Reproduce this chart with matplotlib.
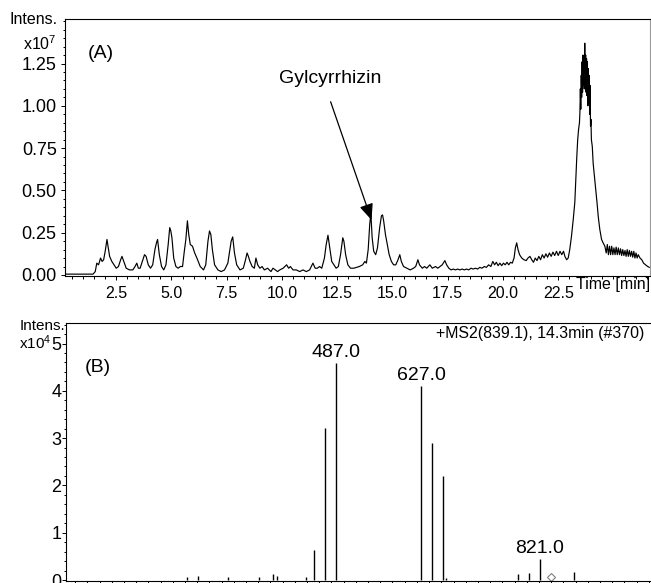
import matplotlib
matplotlib.use('Agg')
import matplotlib.pyplot as plt
from matplotlib.ticker import MultipleLocator, FormatStrFormatter

plt.rcParams['font.family'] = ['Liberation Sans', 'DejaVu Sans']
plt.rcParams['mathtext.default'] = 'regular'

# (A) total ion chromatogram, time in min, intensity x10^7
rt = [0.18, 1.45, 1.55, 1.62, 1.70, 1.79, 1.86, 1.93, 2.00, 2.08, 2.13, 2.20, 2.30, 2.40, 2.50,
      2.60, 2.70, 2.76, 2.84, 2.95, 3.10, 3.25, 3.35, 3.43, 3.50, 3.58, 3.68, 3.78, 3.85, 3.95,
      4.05, 4.15, 4.25, 4.32, 4.37, 4.45, 4.55, 4.65, 4.75, 4.85, 4.92, 4.97, 5.02, 5.10, 5.20,
      5.30, 5.40, 5.50, 5.58, 5.65, 5.72, 5.78, 5.85, 5.95, 6.05, 6.15, 6.30, 6.45, 6.55, 6.65,
      6.72, 6.78, 6.85, 6.95, 7.10, 7.25, 7.40, 7.55, 7.70, 7.77, 7.85, 7.95, 8.10, 8.25, 8.35,
      8.42, 8.48, 8.55, 8.65, 8.75, 8.82, 8.90, 9.00, 9.10, 9.20, 9.35, 9.50, 9.59, 9.70, 9.80,
      9.90, 10.05, 10.21, 10.30, 10.38, 10.50, 10.65, 10.80, 10.95, 11.10, 11.25, 11.40, 11.50, 11.60, 11.70,
      11.80, 11.92, 12.00, 12.08, 12.15, 12.25, 12.35, 12.45, 12.55, 12.65, 12.75, 12.80, 12.88, 12.98, 13.10,
      13.25, 13.50, 13.65, 13.75, 13.82, 13.90, 13.97, 14.02, 14.08, 14.15, 14.24, 14.32, 14.42, 14.50, 14.55,
      14.60, 14.68, 14.75, 14.85, 14.95, 15.05, 15.15, 15.25, 15.33, 15.40, 15.50, 15.65, 15.80, 15.95, 16.05,
      16.15, 16.22, 16.35, 16.45, 16.55, 16.69, 16.80, 16.95, 17.05, 17.15, 17.25, 17.37, 17.45, 17.55, 17.65,
      17.75, 17.85, 17.95, 18.05, 18.15, 18.25, 18.35, 18.45, 18.55, 18.65, 18.75, 18.85, 18.95, 19.05, 19.15,
      19.25, 19.35, 19.45, 19.54, 19.62, 19.70, 19.78, 19.86, 19.94, 20.02, 20.10, 20.18, 20.26, 20.34, 20.42,
      20.50, 20.56, 20.62, 20.68, 20.75, 20.85, 20.95, 21.05, 21.13, 21.22, 21.30, 21.38, 21.46, 21.54, 21.62,
      21.70, 21.78, 21.86, 21.94, 22.02, 22.10, 22.18, 22.26, 22.34, 22.42, 22.50, 22.58, 22.66, 22.74, 22.80,
      22.88, 22.95, 23.02, 23.10, 23.18, 23.25, 23.30, 23.34, 23.38, 23.42, 23.46, 23.48, 23.50, 23.52, 23.54,
      23.56, 23.58, 23.60, 23.62, 23.64, 23.66, 23.68, 23.70, 23.72, 23.74, 23.76, 23.78, 23.80, 23.82, 23.84,
      23.86, 23.88, 23.90, 23.92, 23.94, 23.96, 23.98, 24.00, 24.04, 24.08, 24.14, 24.20, 24.26, 24.31, 24.38,
      24.46, 24.53, 24.61, 24.67, 24.72, 24.77, 24.82, 24.87, 24.92, 24.97, 25.02, 25.07, 25.12, 25.17, 25.22,
      25.27, 25.32, 25.37, 25.42, 25.47, 25.52, 25.57, 25.62, 25.67, 25.72, 25.77, 25.82, 25.87, 25.92, 25.97,
      26.02, 26.07, 26.12, 26.20, 26.28, 26.36, 26.45, 26.55, 26.62]
tic = [0.005, 0.005, 0.02, 0.07, 0.06, 0.10, 0.08, 0.09, 0.14, 0.21, 0.17, 0.11, 0.08, 0.06, 0.04,
       0.05, 0.09, 0.11, 0.08, 0.04, 0.03, 0.03, 0.05, 0.07, 0.04, 0.04, 0.08, 0.12, 0.11, 0.06,
       0.04, 0.06, 0.15, 0.19, 0.21, 0.12, 0.05, 0.03, 0.06, 0.18, 0.28, 0.26, 0.22, 0.10, 0.05,
       0.04, 0.05, 0.05, 0.14, 0.21, 0.32, 0.24, 0.18, 0.17, 0.13, 0.10, 0.05, 0.03, 0.06, 0.20,
       0.26, 0.24, 0.15, 0.06, 0.03, 0.02, 0.03, 0.07, 0.20, 0.225, 0.13, 0.06, 0.03, 0.04, 0.09,
       0.13, 0.11, 0.08, 0.05, 0.04, 0.10, 0.06, 0.04, 0.05, 0.03, 0.04, 0.02, 0.04, 0.03, 0.02,
       0.03, 0.04, 0.06, 0.04, 0.05, 0.03, 0.03, 0.02, 0.03, 0.02, 0.03, 0.07, 0.04, 0.04, 0.05,
       0.04, 0.10, 0.18, 0.235, 0.17, 0.08, 0.06, 0.04, 0.05, 0.12, 0.22, 0.20, 0.12, 0.06, 0.04,
       0.04, 0.05, 0.06, 0.08, 0.07, 0.15, 0.30, 0.365, 0.22, 0.14, 0.12, 0.16, 0.28, 0.35, 0.355,
       0.32, 0.24, 0.19, 0.12, 0.08, 0.06, 0.06, 0.09, 0.12, 0.08, 0.05, 0.04, 0.03, 0.04, 0.05,
       0.09, 0.06, 0.04, 0.05, 0.04, 0.06, 0.04, 0.05, 0.04, 0.05, 0.06, 0.085, 0.06, 0.04, 0.03,
       0.035, 0.03, 0.035, 0.03, 0.035, 0.03, 0.035, 0.03, 0.04, 0.035, 0.04, 0.035, 0.045, 0.04, 0.05,
       0.045, 0.06, 0.05, 0.08, 0.06, 0.075, 0.055, 0.07, 0.055, 0.07, 0.06, 0.075, 0.06, 0.075, 0.07,
       0.10, 0.16, 0.19, 0.15, 0.12, 0.10, 0.09, 0.085, 0.10, 0.11, 0.09, 0.075, 0.10, 0.085, 0.11,
       0.09, 0.12, 0.10, 0.125, 0.105, 0.13, 0.11, 0.135, 0.115, 0.14, 0.115, 0.14, 0.12, 0.14, 0.11,
       0.09, 0.10, 0.15, 0.23, 0.33, 0.43, 0.58, 0.70, 0.80, 0.86, 0.90, 0.96, 1.10, 0.98, 1.18,
       1.05, 1.26, 1.08, 1.30, 1.12, 1.24, 1.10, 1.37, 1.14, 1.30, 1.08, 1.28, 1.06, 1.26, 1.00,
       1.22, 1.02, 1.18, 0.95, 1.12, 0.88, 0.92, 0.80, 0.76, 0.66, 0.58, 0.50, 0.42, 0.345, 0.27,
       0.21, 0.19, 0.17, 0.13, 0.18, 0.12, 0.17, 0.12, 0.17, 0.12, 0.16, 0.12, 0.165, 0.12, 0.16,
       0.12, 0.155, 0.115, 0.15, 0.115, 0.145, 0.11, 0.15, 0.11, 0.145, 0.11, 0.14, 0.105, 0.14, 0.10,
       0.13, 0.10, 0.12, 0.10, 0.09, 0.07, 0.06, 0.05, 0.045]
tic_ticks = [0.0, 0.25, 0.5, 0.75, 1.0, 1.25]
rt_ticks = [2.5, 5.0, 7.5, 10.0, 12.5, 15.0, 17.5, 20.0, 22.5]

# (B) MS2 spectrum of 839.1, m/z and intensity x10^4
mz = [243, 261, 311, 362, 385, 391, 438, 451, 469, 487, 627, 645, 663, 667, 785, 803, 821, 877]
ms_int = [0.06, 0.09, 0.06, 0.07, 0.12, 0.09, 0.07, 0.63, 3.22, 4.58, 4.10, 2.89, 2.20, 0.04,
          0.12, 0.15, 0.45, 0.16]
peak_labels = [487.0, 627.0, 821.0]
precursor = 839.1


def style(ax):
	for s in ax.spines.values():
		s.set_linewidth(0.8)
	ax.tick_params(which='both', direction='out', width=0.7)
	ax.tick_params(which='major', length=3)
	ax.tick_params(which='minor', length=1.8)


def chromatogram(fig):
	ax = fig.add_axes([0.0998, 0.5266, 0.8986, 0.4408])
	ax.plot(rt, tic, color='k', lw=0.85)
	ax.set_xlim(0.18, 26.65)
	ax.set_ylim(-0.006, 1.513)
	ax.set_xticks(rt_ticks)
	ax.set_yticks(tic_ticks)
	ax.xaxis.set_minor_locator(MultipleLocator(0.5))
	ax.yaxis.set_minor_locator(MultipleLocator(0.05))
	ax.xaxis.set_major_formatter(FormatStrFormatter('%.1f'))
	ax.yaxis.set_major_formatter(FormatStrFormatter('%.2f'))
	style(ax)
	ax.spines['right'].set_color('0.6')
	ax.tick_params(axis='x', labelsize=11.5, pad=4)
	ax.tick_params(axis='y', labelsize=13, pad=3)
	ax.text(0.061, 0.864, '(A)', transform=ax.transAxes, ha='center', va='center', fontsize=14)
	ax.text(12.19, 1.163, 'Gylcyrrhizin', ha='center', va='center', fontsize=14)
	ax.annotate('', xy=(14.05, 0.325), xytext=(12.2, 1.024),
				arrowprops=dict(arrowstyle='-|>,head_length=0.7,head_width=0.3', color='k',
								lw=0.9, mutation_scale=14, shrinkA=0, shrinkB=0))
	fig.text(58 / 651, 1 - 20 / 583, 'Intens.', ha='right', va='center', fontsize=11.5)
	fig.text(57 / 651, 1 - 44 / 583, 'x10$^{7}$', ha='right', va='center', fontsize=11.5)
	fig.text(0.998, 1 - 285 / 583, 'Time [min]', ha='right', va='center', fontsize=11.5)


def spectrum(fig):
	ax = fig.add_axes([0.1014, 0.0034, 0.8971, 0.4431])
	ax.vlines(mz, 0, ms_int, color='k', lw=1.0)
	ax.plot([precursor], [0.07], marker='D', ms=4, mfc='white', mec='0.5', mew=0.8, ls='none')
	for p in peak_labels:
		h = ms_int[mz.index(int(p))]
		ax.annotate('%.1f' % p, xy=(p, h), xytext=(0, 1.5), textcoords='offset points',
					ha='center', va='bottom', fontsize=14)
	ax.set_xlim(45, 1002)
	ax.set_ylim(-0.021, 5.44)
	ax.xaxis.set_major_locator(MultipleLocator(100))
	ax.xaxis.set_minor_locator(MultipleLocator(20))
	ax.yaxis.set_major_locator(MultipleLocator(1))
	ax.yaxis.set_minor_locator(MultipleLocator(0.2))
	style(ax)
	ax.spines['right'].set_visible(False)
	ax.tick_params(axis='x', labelbottom=False)
	ax.tick_params(axis='y', labelsize=13, pad=0.5)
	ax.text(0.054, 0.828, '(B)', transform=ax.transAxes, ha='center', va='center', fontsize=14)
	ax.text(0.991, 0.96, '+MS2(839.1), 14.3min (#370)', transform=ax.transAxes,
			ha='right', va='center', fontsize=11.4)
	fig.text(65 / 651, 1 - 326 / 583, 'Intens.', ha='right', va='center', fontsize=11)
	fig.text(51 / 651, 1 - 343 / 583, 'x10$^{4}$', ha='right', va='center', fontsize=11)


def main():
	fig = plt.figure(figsize=(6.51, 5.83), dpi=100)
	chromatogram(fig)
	spectrum(fig)
	fig.savefig('out.png', dpi=100)


if __name__ == "__main__":
	main()
